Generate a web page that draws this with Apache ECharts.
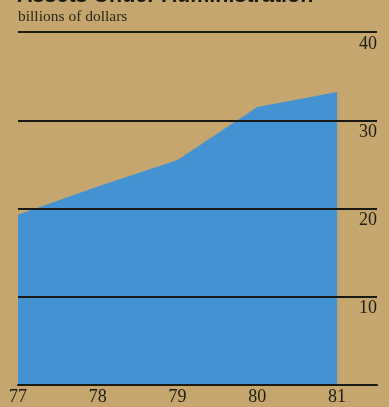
<!DOCTYPE html>
<html>
<head>
<meta charset="utf-8">
<script src="https://cdn.jsdelivr.net/npm/echarts@6/dist/echarts.min.js"></script>
<style>
html,body{margin:0;padding:0;background:#c4a66e;}
#c{width:389px;height:407px;}
</style>
</head>
<body>
<div id="c"></div>
<script>
const years = [77, 78, 79, 80, 81];
const assets = [19.3, 22.5, 25.5, 31.5, 33.2];
const yTicks = [10, 20, 30, 40];
const titleText = 'Assets Under Administration';
const subtitleText = 'billions of dollars';

const chart = echarts.init(document.getElementById('c'));
chart.setOption({
  backgroundColor: '#c4a66e',
  animation: false,
  grid: {left: 18, right: 12, top: 32, bottom: 22},
  graphic: [
    {type: 'text', x: 17, y: 7, style: {text: titleText, font: 'bold 21.5px "Liberation Sans", Arial, sans-serif', fill: '#1a1a14', verticalAlign: 'bottom'}},
    {type: 'text', x: 18, y: 25, style: {text: subtitleText, font: '15.5px "Liberation Serif", "Times New Roman", serif', fill: '#2a2618', verticalAlign: 'bottom'}}
  ],
  xAxis: {
    type: 'value', min: 77, max: 81.5, interval: 1,
    axisLine: {show: true, lineStyle: {color: '#1a1a14', width: 2}},
    axisTick: {show: false},
    splitLine: {show: false},
    axisLabel: {
      margin: 3, color: '#1e1c14', fontSize: 18,
      fontFamily: '"Liberation Serif", "Times New Roman", serif',
      formatter: v => years.indexOf(v) >= 0 ? String(v) : ''
    }
  },
  yAxis: {
    type: 'value', min: 0, max: 40, interval: 10, position: 'right', z: 10,
    axisLine: {show: false}, axisTick: {show: false},
    splitLine: {show: true, lineStyle: {color: '#1a1a14', width: 2}},
    axisLabel: {
      inside: true, margin: 0, verticalAlign: 'top', padding: [3, 0, 0, 0], color: '#1e1c14', fontSize: 18,
      fontFamily: '"Liberation Serif", "Times New Roman", serif',
      formatter: v => yTicks.indexOf(v) >= 0 ? String(v) : ''
    }
  },
  series: [{
    type: 'line',
    data: years.map((y, i) => [y, assets[i]]),
    symbol: 'none',
    lineStyle: {width: 0},
    areaStyle: {color: '#4592d2', opacity: 1},
    z: 2
  }]
});
</script>
</body>
</html>
